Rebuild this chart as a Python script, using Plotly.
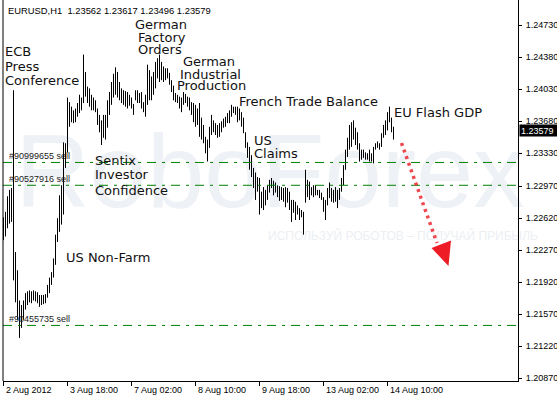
import plotly.graph_objects as go

# ---------------- data ----------------
chart_title = "EURUSD,H1  1.23562 1.23617 1.23496 1.23579"
last_price = 1.23579

highs = [
    1.2263, 1.2269, 1.2286, 1.2293, 1.2295, 1.2402, 1.2225, 1.2205, 1.2172, 1.2167,
    1.2172, 1.2180, 1.2182, 1.2183, 1.2182, 1.2183, 1.2182, 1.2181, 1.2178, 1.2178,
    1.2178, 1.2179, 1.2189, 1.2197, 1.2203, 1.2218, 1.2244, 1.2262, 1.2287, 1.2298,
    1.2345, 1.2344, 1.2394, 1.2389, 1.2384, 1.2380, 1.2382, 1.2388, 1.2397, 1.2394,
    1.2441, 1.2422, 1.2406, 1.2404, 1.2397, 1.2394, 1.2391, 1.2382, 1.2375, 1.2369,
    1.2375, 1.2375, 1.2391, 1.2400, 1.2411, 1.2420, 1.2427, 1.2422, 1.2411, 1.2404,
    1.2402, 1.2401, 1.2400, 1.2397, 1.2394, 1.2387, 1.2402, 1.2402, 1.2399, 1.2400,
    1.2389, 1.2397, 1.2430, 1.2424, 1.2417, 1.2422, 1.2433, 1.2437, 1.2441, 1.2433,
    1.2428, 1.2426, 1.2426, 1.2421, 1.2413, 1.2407, 1.2399, 1.2397, 1.2395, 1.2394,
    1.2400, 1.2398, 1.2395, 1.2394, 1.2389, 1.2388, 1.2386, 1.2382, 1.2388, 1.2372,
    1.2364, 1.2351, 1.2348, 1.2362, 1.2375, 1.2369, 1.2366, 1.2364, 1.2366, 1.2368,
    1.2371, 1.2373, 1.2377, 1.2380, 1.2386, 1.2384, 1.2384, 1.2384, 1.2382, 1.2378,
    1.2372, 1.2356, 1.2345, 1.2340, 1.2331, 1.2317, 1.2312, 1.2307, 1.2306, 1.2291,
    1.2296, 1.2293, 1.2298, 1.2304, 1.2306, 1.2303, 1.2301, 1.2298, 1.2297, 1.2296,
    1.2295, 1.2296, 1.2295, 1.2291, 1.2282, 1.2282, 1.2280, 1.2276, 1.2273, 1.2271,
    1.2269, 1.2315, 1.2304, 1.2302, 1.2296, 1.2298, 1.2298, 1.2293, 1.2293, 1.2290,
    1.2285, 1.2282, 1.2295, 1.2301, 1.2295, 1.2293, 1.2296, 1.2293, 1.2295, 1.2306,
    1.2320, 1.2337, 1.2350, 1.2364, 1.2367, 1.2369, 1.2361, 1.2356, 1.2344, 1.2337,
    1.2337, 1.2334, 1.2333, 1.2337, 1.2333, 1.2340, 1.2344, 1.2346, 1.2344, 1.2355,
    1.2364, 1.2369, 1.2378, 1.2384, 1.2372, 1.2362,
]
lows = [
    1.2238, 1.2242, 1.2251, 1.2256, 1.2258, 1.2194, 1.2170, 1.2151, 1.2131, 1.2142,
    1.2151, 1.2162, 1.2167, 1.2170, 1.2169, 1.2172, 1.2171, 1.2169, 1.2165, 1.2167,
    1.2168, 1.2169, 1.2175, 1.2180, 1.2189, 1.2197, 1.2211, 1.2236, 1.2247, 1.2255,
    1.2266, 1.2317, 1.2334, 1.2362, 1.2367, 1.2366, 1.2367, 1.2373, 1.2377, 1.2380,
    1.2388, 1.2395, 1.2388, 1.2384, 1.2380, 1.2380, 1.2378, 1.2364, 1.2356, 1.2342,
    1.2350, 1.2348, 1.2361, 1.2375, 1.2386, 1.2394, 1.2397, 1.2394, 1.2391, 1.2388,
    1.2386, 1.2384, 1.2382, 1.2385, 1.2382, 1.2375, 1.2391, 1.2388, 1.2388, 1.2382,
    1.2378, 1.2373, 1.2386, 1.2391, 1.2391, 1.2397, 1.2404, 1.2415, 1.2411, 1.2413,
    1.2411, 1.2413, 1.2415, 1.2408, 1.2400, 1.2391, 1.2389, 1.2388, 1.2382, 1.2378,
    1.2386, 1.2388, 1.2384, 1.2380, 1.2375, 1.2367, 1.2362, 1.2364, 1.2351, 1.2348,
    1.2344, 1.2333, 1.2324, 1.2339, 1.2353, 1.2356, 1.2353, 1.2350, 1.2351, 1.2356,
    1.2361, 1.2362, 1.2366, 1.2366, 1.2373, 1.2377, 1.2375, 1.2367, 1.2369, 1.2362,
    1.2355, 1.2339, 1.2328, 1.2315, 1.2307, 1.2295, 1.2282, 1.2291, 1.2266, 1.2273,
    1.2271, 1.2276, 1.2282, 1.2290, 1.2295, 1.2287, 1.2290, 1.2285, 1.2281, 1.2282,
    1.2280, 1.2274, 1.2279, 1.2271, 1.2258, 1.2268, 1.2260, 1.2266, 1.2260, 1.2263,
    1.2244, 1.2279, 1.2285, 1.2282, 1.2287, 1.2285, 1.2287, 1.2287, 1.2284, 1.2282,
    1.2269, 1.2260, 1.2276, 1.2284, 1.2280, 1.2279, 1.2280, 1.2273, 1.2282, 1.2291,
    1.2298, 1.2315, 1.2329, 1.2337, 1.2340, 1.2348, 1.2342, 1.2337, 1.2324, 1.2326,
    1.2328, 1.2326, 1.2326, 1.2324, 1.2324, 1.2322, 1.2337, 1.2339, 1.2337, 1.2340,
    1.2350, 1.2353, 1.2358, 1.2367, 1.2356, 1.2348,
]

x_tick_bars = [0, 32, 64, 96, 128, 160, 192]
x_tick_labels = ["2 Aug 2012", "3 Aug 18:00", "7 Aug 02:00", "8 Aug 10:00",
                 "9 Aug 18:00", "13 Aug 02:00", "14 Aug 10:00"]
y_tick_vals = [1.24730, 1.24380, 1.24030, 1.23680, 1.23330, 1.22970,
               1.22620, 1.22270, 1.21920, 1.21570, 1.21220, 1.20870]

order_ids = ["#90999655 sell", "#90527916 sell", "#90455735 sell"]
order_levels = [1.2323, 1.2298, 1.21447]

# ---------------- geometry / helpers (layout only) ----------------
W, H = 557, 399
ML, MR, MT, MB = 3, 39, 0, 18
PW, PH = W - ML - MR, H - MT - MB
X_RANGE = [-0.25, 257.25]
Y_RANGE = [1.20839, 1.25007]


def paper(px, py):
    return (px - ML) / PW, 1 - (py - MT) / PH


def data_x(px):
    return X_RANGE[0] + (px - ML) / PW * (X_RANGE[1] - X_RANGE[0])


def data_y(py):
    return Y_RANGE[1] - (py - MT) / PH * (Y_RANGE[1] - Y_RANGE[0])


EVENT_FONT = dict(family="DejaVu Sans", size=13, color="#111111")
SMALL_FONT = dict(family="Liberation Sans, Arial", size=9, color="#000000")

fig = go.Figure()

# watermark (behind the bars)
fig.add_trace(go.Scatter(
    x=[data_x(270)], y=[data_y(181)], mode="text", text=["RoboForex"],
    textfont=dict(family="Liberation Sans, Arial", size=103, color="#eef1f5"),
    textposition="middle center", hoverinfo="skip", showlegend=False, cliponaxis=False))
fig.add_trace(go.Scatter(
    x=[data_x(403)], y=[data_y(237)], mode="text",
    text=["ИСПОЛЬЗУЙ РОБОТОВ – ПОЛУЧАЙ ПРИБЫЛЬ"],
    textfont=dict(family="Liberation Sans, Arial", size=12, color="#eceff3"),
    textposition="middle center", hoverinfo="skip", showlegend=False, cliponaxis=False))

# price bars (high-low lines)
bx, by = [], []
for i, (h, l) in enumerate(zip(highs, lows)):
    bx += [i, i, None]
    by += [l, h, None]
fig.add_trace(go.Scatter(x=bx, y=by, mode="lines", line=dict(color="black", width=1),
                         hoverinfo="skip", showlegend=False))

shapes = []
annotations = []

# order lines
for oid, lvl in zip(order_ids, order_levels):
    shapes.append(dict(type="line", xref="paper", x0=0, x1=1, yref="y", y0=lvl, y1=lvl,
                       line=dict(color="#008000", width=1, dash="9px,6px,3px,6px")))
    annotations.append(dict(text=oid, xref="paper", x=paper(7.5, 0)[0], yref="y", y=lvl,
                            yshift=6, xanchor="left", yanchor="middle", showarrow=False,
                            font=dict(family="Liberation Sans, Arial", size=9, color="#222222"),
                            borderpad=0))

# left frame line
shapes.append(dict(type="line", xref="paper", yref="paper", x0=0, x1=0, y0=0, y1=1,
                   line=dict(color="black", width=1)))

# red forecast arrow
ax0, ay0 = paper(401.5, 143)
ax1, ay1 = paper(437, 243)
shapes.append(dict(type="line", xref="paper", yref="paper", x0=ax0, y0=ay0, x1=ax1, y1=ay1,
                   line=dict(color="rgba(236,40,50,0.85)", width=3.5, dash="3px,4px")))
t1, t2, t3 = paper(431.5, 248), paper(451, 240.5), paper(448.5, 266)
shapes.append(dict(type="path", xref="paper", yref="paper",
                   path=f"M {t1[0]} {t1[1]} L {t2[0]} {t2[1]} L {t3[0]} {t3[1]} Z",
                   fillcolor="#ee1c25", line=dict(color="#ee1c25", width=0)))

# event labels
event_lines = [
    ("ECB", 4, 51.5), ("Press", 4, 66.5), ("Conference", 4, 80.5),
    ("German", 134, 24), ("Factory", 136.7, 37.5), ("Orders", 136.7, 49.5),
    ("German", 182, 62), ("Industrial", 179, 74), ("Production", 176, 85.5),
    ("French Trade Balance", 238, 101),
    ("US", 253, 140.5), ("Claims", 253, 153.5),
    ("EU Flash GDP", 393, 112),
    ("Sentix", 94, 160.3), ("Investor", 94, 174.3), ("Confidence", 94, 190.3),
    ("US Non-Farm", 64.7, 257),
]
for txt, px, py in event_lines:
    xp, yp = paper(px, py)
    annotations.append(dict(text=txt, xref="paper", yref="paper", x=xp, y=yp,
                            xanchor="left", yanchor="middle", showarrow=False,
                            font=EVENT_FONT, borderpad=0))

# title
xp, yp = paper(6.5, 10.7)
annotations.append(dict(text=chart_title.replace("  ", "&nbsp;&nbsp;"), xref="paper", yref="paper",
                        x=xp, y=yp, xanchor="left", yanchor="middle", showarrow=False,
                        font=dict(family="Liberation Sans, Arial", size=9.4, color="#000000"),
                        borderpad=0))

# x tick labels (left aligned next to tick)
for tb, tl in zip(x_tick_bars, x_tick_labels):
    annotations.append(dict(text=tl, xref="x", x=tb, xshift=1, yref="paper", y=0, yshift=-3,
                            xanchor="left", yanchor="top", showarrow=False,
                            font=SMALL_FONT, borderpad=0))

# current price marker
annotations.append(dict(text="1.23579", xref="paper", x=1, xshift=1, yref="y", y=last_price,
                        xanchor="left", yanchor="middle", showarrow=False, align="left",
                        font=dict(family="Liberation Sans, Arial", size=9, color="white"),
                        bgcolor="black", width=35, height=9, borderpad=1))

fig.update_layout(
    width=W, height=H, margin=dict(l=ML, r=MR, t=MT, b=MB, pad=0),
    paper_bgcolor="white", plot_bgcolor="white",
    showlegend=False, shapes=shapes, annotations=annotations,
    xaxis=dict(range=X_RANGE, showgrid=False, zeroline=False, showline=True,
               linecolor="black", linewidth=1, ticks="outside", ticklen=4,
               tickcolor="black", tickvals=x_tick_bars, showticklabels=False,
               fixedrange=True),
    yaxis=dict(range=Y_RANGE, side="right", showgrid=False, zeroline=False,
               showline=True, linecolor="black", linewidth=1, ticks="outside",
               ticklen=3, tickcolor="black", tickvals=y_tick_vals,
               ticktext=[f"{v:.5f}" for v in y_tick_vals], tickfont=SMALL_FONT,
               ticklabelstandoff=2, fixedrange=True),
)

fig.write_html("out.html", config={"displayModeBar": False},
               post_script="document.body.style.margin='0';document.body.style.overflow='hidden';")
